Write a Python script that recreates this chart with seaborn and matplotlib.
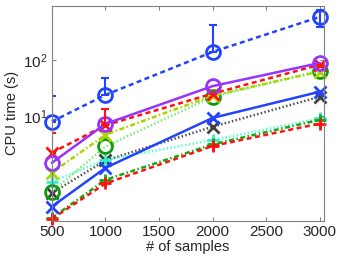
import matplotlib
matplotlib.use("Agg")
import matplotlib.pyplot as plt
import seaborn as sns

# sample counts on the x axis
samples = [500, 1000, 2000, 3000]

# cpu time of each method (seconds)
blue_circ = [7.9, 23.7, 139, 586]
blue_circ_lo = [0, 0, 0, 200]
blue_circ_hi = [14.8, 24, 283, 200]
red_cross = [2.2, 6.8, 25, 82]
red_cross_lo = [0, 0, 0, 0]
red_cross_hi = [2.8, 6.4, 0, 0]
purple_circ = [1.45, 7.2, 34, 88]
yellow_cross = [0.97, 4.6, 23, 62]
green_circ = [0.44, 2.84, 22, 64]
cyan_plus = [0.67, 1.64, 3.7, 9.0]
gray_cross = [0.42, 1.6, 6.4, 22]
blue_cross = [0.24, 1.18, 9.2, 27]
green_plus = [0.15, 0.72, 3.1, 8.5]
red_plus = [0.145, 0.62, 2.9, 7.3]

sns.set_style("ticks")
plt.rcParams['font.family'] = ['Liberation Sans', 'DejaVu Sans']
plt.rcParams['font.size'] = 11

fig = plt.figure(figsize=(3.39, 2.56), dpi=100)
ax = fig.add_axes([0.153, 0.137, 0.803, 0.84])

# one entry per series: values, line colour, marker colour, linestyle, marker
series = [
    (gray_cross, '#505050', '#404040', ':', 'x'),
    (cyan_plus, '#55ffcc', '#33eecc', ':', '+'),
    (green_plus, '#11aa11', '#11aa11', '-.', '+'),
    (red_plus, '#ff1111', '#ff1111', '--', '+'),
    (blue_cross, '#2244ff', '#2244ff', '-', 'x'),
    (green_circ, '#77ee77', '#119911', ':', 'o'),
    (yellow_cross, '#aad400', '#aad400', '-.', 'x'),
    (red_cross, '#ff1111', '#ff1111', '--', 'x'),
    (purple_circ, '#9933ff', '#9933ff', '-', 'o'),
    (blue_circ, '#2244ff', '#2244ff', '--', 'o'),
]

dash_map = {'--': (2, 1.4), ':': (0.6, 0.9), '-.': (2, 1, 0.6, 1), '-': ''}

for vals, lc, mc, ls, mk in series:
    sns.lineplot(x=samples, y=vals, color=lc, linewidth=1.8,
                 marker=mk, markersize=10 if mk == 'o' else 9,
                 markeredgecolor=mc, markerfacecolor='none',
                 markeredgewidth=2, clip_on=False, ax=ax)
    line = ax.lines[-1]
    if ls != '-':
        line.set_dashes(dash_map[ls])

# error bars for the two series that have them
ax.errorbar(samples, red_cross, yerr=[red_cross_lo, red_cross_hi], fmt='none',
            ecolor='#ff1111', elinewidth=1.5, capsize=3, capthick=1.5)
ax.errorbar(samples, blue_circ, yerr=[blue_circ_lo, blue_circ_hi], fmt='none',
            ecolor='#2244ff', elinewidth=1.5, capsize=3, capthick=1.5)

ax.set_yscale('log')
ax.set_xlim(500, 3040)
ax.set_ylim(0.133, 921)
ax.set_xticks([500, 1000, 1500, 2000, 2500, 3000])
ax.set_yticks([10, 100])
ax.minorticks_off()
ax.tick_params(direction='in', top=True, right=True, length=3, width=0.8,
               color='#808080', labelsize=11, pad=3)
for s in ax.spines.values():
    s.set_color('#808080')
    s.set_linewidth(0.8)
ax.set_xlabel('# of samples', fontsize=10.5, labelpad=1)
ax.set_ylabel('CPU time (s)', fontsize=10.5, labelpad=3)

fig.savefig('out.png', dpi=100)
